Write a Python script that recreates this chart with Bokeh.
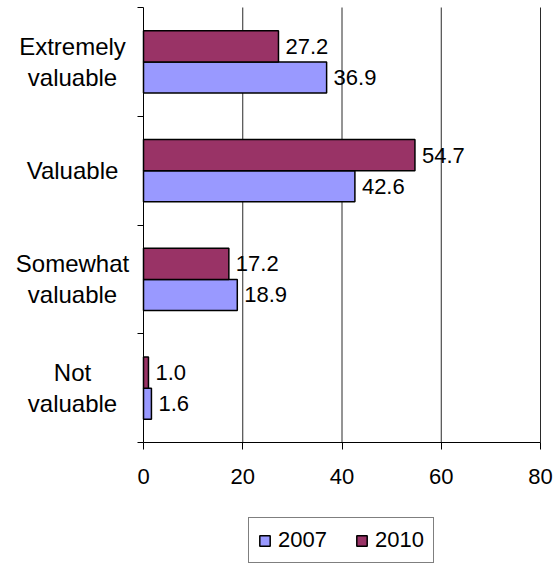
from bokeh.plotting import figure
from bokeh.models import (Range1d, FixedTicker, Legend, LegendItem, ColumnDataSource,
                          LabelSet, LinearAxis)
from bokeh.core.properties import value
from bokeh.embed import file_html
from bokeh.resources import INLINE

categories = ["Extremely\nvaluable", "Valuable", "Somewhat\nvaluable", "Not\nvaluable"]
values_2007 = [36.9, 42.6, 18.9, 1.6]
values_2010 = [27.2, 54.7, 17.2, 1.0]
x_ticks = [0, 20, 40, 60, 80]
series_names = ["2007", "2010"]
colors = ["#9999FF", "#993366"]

FONT = "Liberation Sans"
FS = "22px"

W, H = 555, 565
n = len(categories)
centers = [n - i - 0.5 for i in range(n)]
boundaries = list(range(n + 1))
bar_h = 1 / 3.5
off = bar_h / 2

# plot area placement in pixels (layout only)
PX_LEFT, PX_RIGHT, PX_TOP, PX_BOTTOM = 143, 540, 7, 442
xmax = x_ticks[-1]
sx = (PX_RIGHT - PX_LEFT) / xmax
sy = (PX_BOTTOM - PX_TOP) / n
x_range = Range1d(-PX_LEFT / sx, (W - PX_LEFT) / sx)
y_range = Range1d(-(H - PX_BOTTOM) / sy, n + PX_TOP / sy)

p = figure(width=W, height=H, output_backend="svg", toolbar_location=None,
           x_range=x_range, y_range=y_range, x_axis_type=None, y_axis_type=None,
           min_border=0)
p.outline_line_color = None
p.background_fill_color = "white"
p.border_fill_color = "white"
p.grid.visible = False

# vertical gridlines
p.segment(x0=x_ticks[1:], y0=0, x1=x_ticks[1:], y1=n, line_color="#2a2a2a", line_width=1)

src07 = ColumnDataSource(dict(y=[c - off for c in centers], v=values_2007,
                              t=[f"{v:.1f}" for v in values_2007]))
src10 = ColumnDataSource(dict(y=[c + off for c in centers], v=values_2010,
                              t=[f"{v:.1f}" for v in values_2010]))

r07 = p.hbar(y="y", left=0, right="v", height=bar_h, source=src07,
             fill_color=colors[0], line_color="black", line_width=1.5)
r10 = p.hbar(y="y", left=0, right="v", height=bar_h, source=src10,
             fill_color=colors[1], line_color="black", line_width=1.5)

for src in (src07, src10):
    p.add_layout(LabelSet(x="v", y="y", text="t", source=src, x_offset=7,
                          text_baseline="middle", text_align="left",
                          text_font=value(FONT), text_font_size=value(FS), text_color="black"))

# category labels
cat_src = ColumnDataSource(dict(y=centers, t=categories))
p.text(x=0, y="y", text="t", source=cat_src, x_offset=-71, text_align="center",
       text_baseline="middle", text_font=value(FONT), text_font_size="24px",
       text_color="black", text_line_height=1.15)

# x axis
xaxis = LinearAxis(fixed_location=0, bounds=(0, xmax), ticker=FixedTicker(ticks=x_ticks),
                   major_tick_in=0, major_tick_out=7, minor_tick_line_color=None,
                   axis_line_color="black", major_tick_line_color="black",
                   major_label_text_font=FONT, major_label_text_font_size=FS,
                   major_label_text_color="black", major_label_standoff=19)
p.add_layout(xaxis, "below")

# y axis (line and boundary ticks)
yaxis = LinearAxis(fixed_location=0, bounds=(0, n), ticker=FixedTicker(ticks=boundaries),
                   major_label_overrides={b: "" for b in boundaries},
                   major_tick_in=0, major_tick_out=6, minor_tick_line_color=None,
                   axis_line_color="black", major_tick_line_color="black",
                   major_label_standoff=0)
p.add_layout(yaxis, "left")

legend = Legend(items=[LegendItem(label=series_names[0], renderers=[r07]),
                       LegendItem(label=series_names[1], renderers=[r10])],
                orientation="horizontal", location=(248, 2), margin=0,
                label_text_font=FONT, label_text_font_size=FS, label_text_color="black",
                glyph_width=13, glyph_height=13, label_standoff=7, spacing=28,
                padding=9, border_line_color="black", border_line_width=1,
                background_fill_color="white", background_fill_alpha=1)
p.add_layout(legend, "center")

open("out.html", "w").write(file_html(p, INLINE))
